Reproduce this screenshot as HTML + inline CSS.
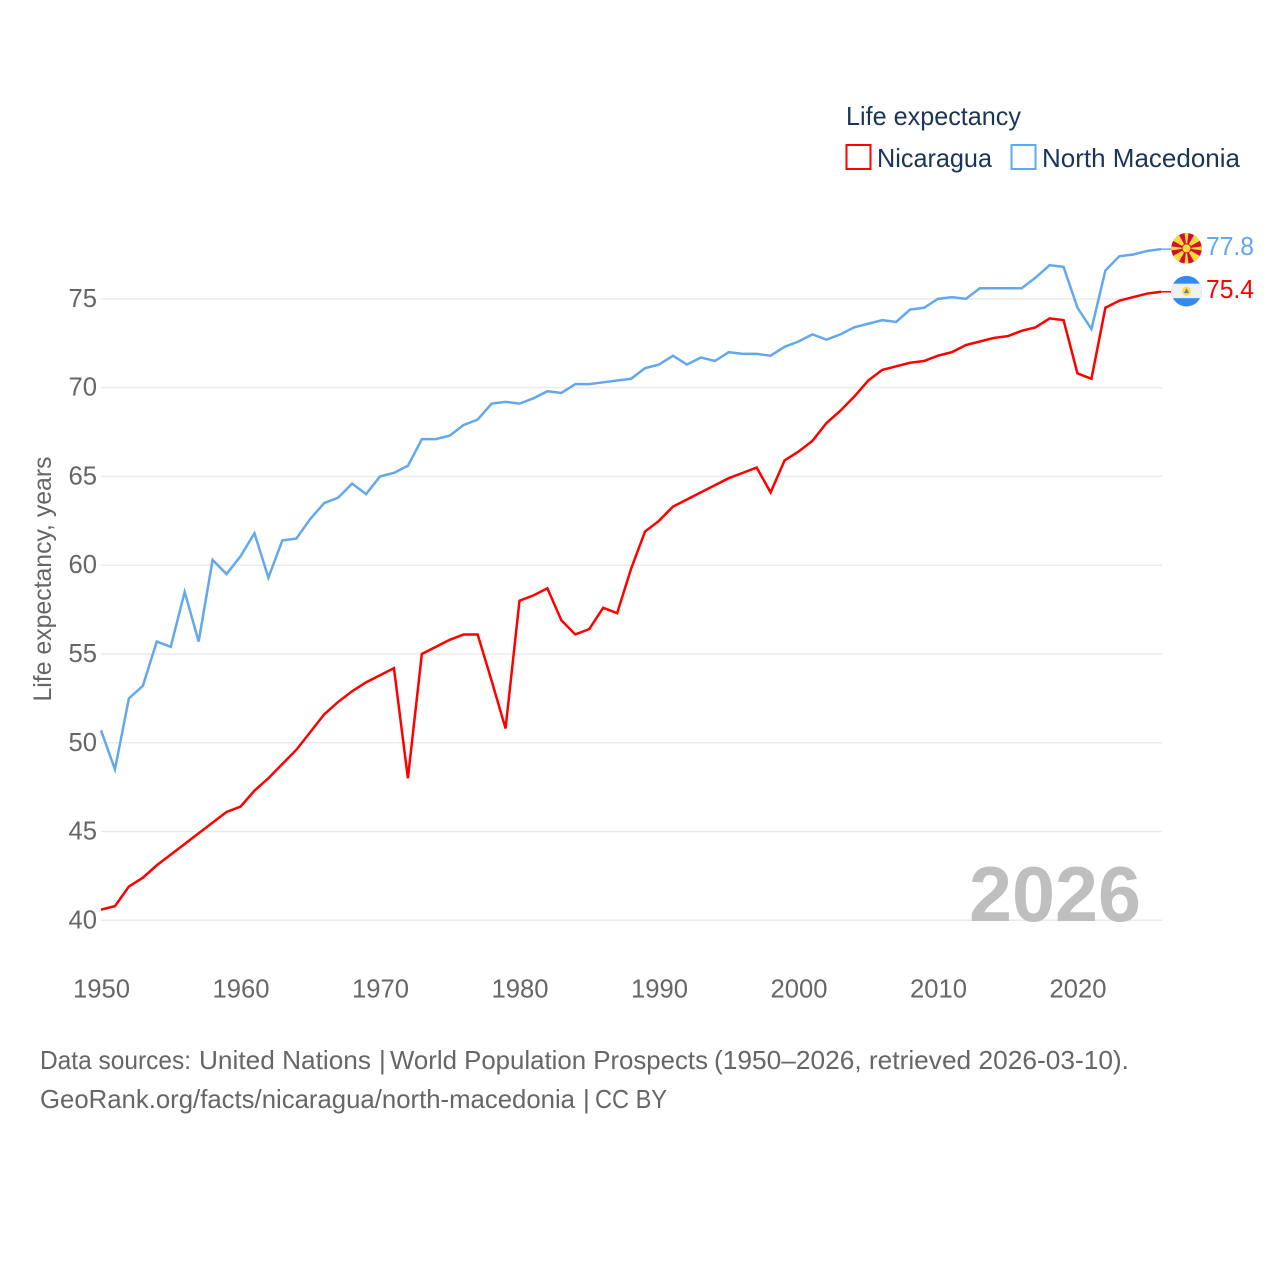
<!DOCTYPE html>
<html lang="en">
<head>
<meta charset="utf-8">
<title>Life expectancy: Nicaragua and North Macedonia</title>
<style>
html,body{margin:0;padding:0;background:#fff;width:1280px;height:1280px;overflow:hidden}
svg{display:block}
text{font-family:"Liberation Sans",sans-serif}
</style>
</head>
<body>
<svg id="chart" width="1280" height="1280" viewBox="0 0 1280 1280" xmlns="http://www.w3.org/2000/svg">
  <rect width="1280" height="1280" fill="#fff"/>
  <g id="grid"></g>
  <g id="yticks"></g>
  <g id="xticks"></g>
  <text transform="translate(51,579) rotate(-90)" text-anchor="middle" font-size="25" fill="#666" textLength="245" lengthAdjust="spacingAndGlyphs">Life expectancy, years</text>
  <text x="969" y="921" font-size="78" font-weight="700" fill="#bfbfbf" textLength="172" lengthAdjust="spacingAndGlyphs">2026</text>
  <g id="series"></g>

  <g>
    <text x="846" y="125" font-size="26" fill="#1a3558" textLength="175" lengthAdjust="spacingAndGlyphs">Life expectancy</text>
    <g>
      <rect x="846.5" y="145" width="24" height="24" fill="#fff" stroke="#ff0000" stroke-width="2"/>
      <text x="877" y="167" font-size="26" fill="#1a3558" textLength="115" lengthAdjust="spacingAndGlyphs">Nicaragua</text>
    </g>
    <g>
      <rect x="1011.5" y="145" width="24" height="24" fill="#fff" stroke="#62a8ee" stroke-width="2"/>
      <text x="1042" y="167" font-size="26" fill="#1a3558" textLength="198" lengthAdjust="spacingAndGlyphs">North Macedonia</text>
    </g>
  </g>

  <g id="flags"></g>
  <g id="endlabels"></g>

  <text y="1069" font-size="26" fill="#666"><tspan x="40" textLength="151" lengthAdjust="spacingAndGlyphs">Data sources:</tspan> <tspan x="199" textLength="172" lengthAdjust="spacingAndGlyphs">United Nations</tspan> <tspan x="379">|</tspan> <tspan x="390" textLength="318" lengthAdjust="spacingAndGlyphs">World Population Prospects</tspan> <tspan x="714" textLength="415" lengthAdjust="spacingAndGlyphs">(1950–2026, retrieved 2026-03-10).</tspan></text>
  <text y="1108" font-size="26" fill="#666"><tspan x="40" textLength="535" lengthAdjust="spacingAndGlyphs">GeoRank.org/facts/nicaragua/north-macedonia</tspan> <tspan x="583">|</tspan> <tspan x="595" textLength="72" lengthAdjust="spacingAndGlyphs">CC BY</tspan></text>
</svg>
<script>
const firstYear = 1950;
const yTickValues = [40, 45, 50, 55, 60, 65, 70, 75];
const xTickValues = [1950, 1960, 1970, 1980, 1990, 2000, 2010, 2020];
const nicaraguaValues = [
  40.6, 40.8, 41.9, 42.4, 43.1, 43.7, 44.3, 44.9, 45.5, 46.1,
  46.4, 47.3, 48.0, 48.8, 49.6, 50.6, 51.6, 52.3, 52.9, 53.4,
  53.8, 54.2, 48.0, 55.0, 55.4, 55.8, 56.1, 56.1, 53.5, 50.8,
  58.0, 58.3, 58.7, 56.9, 56.1, 56.4, 57.6, 57.3, 59.8, 61.9,
  62.5, 63.3, 63.7, 64.1, 64.5, 64.9, 65.2, 65.5, 64.1, 65.9,
  66.4, 67.0, 68.0, 68.7, 69.5, 70.4, 71.0, 71.2, 71.4, 71.5,
  71.8, 72.0, 72.4, 72.6, 72.8, 72.9, 73.2, 73.4, 73.9, 73.8,
  70.8, 70.5, 74.5, 74.9, 75.1, 75.3, 75.4
];
const macedoniaValues = [
  50.7, 48.5, 52.5, 53.2, 55.7, 55.4, 58.5, 55.7, 60.3, 59.5,
  60.5, 61.8, 59.3, 61.4, 61.5, 62.6, 63.5, 63.8, 64.6, 64.0,
  65.0, 65.2, 65.6, 67.1, 67.1, 67.3, 67.9, 68.2, 69.1, 69.2,
  69.1, 69.4, 69.8, 69.7, 70.2, 70.2, 70.3, 70.4, 70.5, 71.1,
  71.3, 71.8, 71.3, 71.7, 71.5, 72.0, 71.9, 71.9, 71.8, 72.3,
  72.6, 73.0, 72.7, 73.0, 73.4, 73.6, 73.8, 73.7, 74.4, 74.5,
  75.0, 75.1, 75.0, 75.6, 75.6, 75.6, 75.6, 76.2, 76.9, 76.8,
  74.5, 73.3, 76.6, 77.4, 77.5, 77.7, 77.8
];

const NS = 'http://www.w3.org/2000/svg';
function x(year) { return 101 + (year - 1950) * 13.95; }
function y(value) { return 920.3 - (value - 40) * 17.755; }
function make(tag, attrs, parent) {
  const el = document.createElementNS(NS, tag);
  for (const k in attrs) el.setAttribute(k, attrs[k]);
  parent.appendChild(el);
  return el;
}

const gridG = document.getElementById('grid');
const yG = document.getElementById('yticks');
const xG = document.getElementById('xticks');
const seriesG = document.getElementById('series');
const flagsG = document.getElementById('flags');
const labelsG = document.getElementById('endlabels');

yTickValues.forEach(function (v) {
  const line = make('line', {x1: 101, x2: 1162, y1: y(v), y2: y(v), stroke: '#ebebeb', 'stroke-width': 1.5}, gridG);
  
  
  const t = make('text', {x: 68.5, y: y(v) + 8, 'font-size': 26, fill: '#666', textLength: 28.5, lengthAdjust: 'spacingAndGlyphs'}, yG);
  
  
  t.textContent = v;
});

xTickValues.forEach(function (v) {
  const t = make('text', {x: x(v) - 28, y: 997.5, 'font-size': 26, fill: '#666', textLength: 57, lengthAdjust: 'spacingAndGlyphs'}, xG);
  
  
  t.textContent = v;
});

function drawSeries(values, color, key) {
  const pts = values.map(function (v, i) { return x(firstYear + i).toFixed(2) + ',' + y(v).toFixed(2); }).join(' ');
  const line = make('polyline', {points: pts, fill: 'none', stroke: color, 'stroke-width': 2.5, 'stroke-linejoin': 'miter'}, seriesG);
  
  
  const last = values[values.length - 1];
  const lx = x(firstYear + values.length - 1);
  const leader = make('line', {x1: lx, x2: 1171, y1: y(last), y2: y(last), stroke: color, 'stroke-width': 1.5}, seriesG);
  
  
  const t = make('text', {x: 1206, y: y(last) + 6, 'font-size': 26, fill: color, textLength: 48, lengthAdjust: 'spacingAndGlyphs'}, labelsG);
  
  
  t.textContent = last.toFixed(1);
}
drawSeries(nicaraguaValues, '#ff0000', 'nicaragua');
drawSeries(macedoniaValues, '#62a8ee', 'north-macedonia');

/* Flags */
const defs = make('defs', {}, flagsG);
const mkCy = y(macedoniaValues[macedoniaValues.length - 1]) - 0.8;
const niCy = y(nicaraguaValues[nicaraguaValues.length - 1]) - 0.6;
const flagCx = 1186.5;
const cpM = make('clipPath', {id: 'clip-mk'}, defs);
make('circle', {cx: flagCx, cy: mkCy, r: 15.3}, cpM);
const cpN = make('clipPath', {id: 'clip-ni'}, defs);
make('circle', {cx: flagCx, cy: niCy, r: 15.3}, cpN);

(function () {
  const g = make('g', {'clip-path': 'url(#clip-mk)'}, flagsG);
  
  
  make('circle', {cx: flagCx, cy: mkCy, r: 15.5, fill: '#d20f34'}, g);
  for (let a = 0; a < 8; a++) {
    const ang = a * Math.PI / 4;
    const w = a % 2 ? 0.27 : 0.13;
    const r = 24;
    const p = [
      [flagCx, mkCy],
      [flagCx + r * Math.sin(ang - w), mkCy - r * Math.cos(ang - w)],
      [flagCx + r * Math.sin(ang + w), mkCy - r * Math.cos(ang + w)]
    ].map(function (q) { return q[0].toFixed(2) + ',' + q[1].toFixed(2); }).join(' ');
    make('polygon', {points: p, fill: '#ffd83d'}, g);
  }
  make('circle', {cx: flagCx, cy: mkCy, r: 5, fill: '#d20f34'}, g);
  make('circle', {cx: flagCx, cy: mkCy, r: 4, fill: '#ffd83d'}, g);
})();

(function () {
  const g = make('g', {'clip-path': 'url(#clip-ni)'}, flagsG);
  
  
  make('rect', {x: flagCx - 16, y: niCy - 16, width: 32, height: 32, fill: '#338af3'}, g);
  make('rect', {x: flagCx - 16, y: niCy - 7.5, width: 32, height: 14.5, fill: '#f0f0f0'}, g);
  make('circle', {cx: flagCx, cy: niCy, r: 4.5, fill: '#ffda44'}, g);
  make('polygon', {points: (flagCx - 2.6) + ',' + (niCy + 2) + ' ' + flagCx + ',' + (niCy - 2.8) + ' ' + (flagCx + 2.6) + ',' + (niCy + 2), fill: '#5a7fa8'}, g);
})();
</script>
</body>
</html>
